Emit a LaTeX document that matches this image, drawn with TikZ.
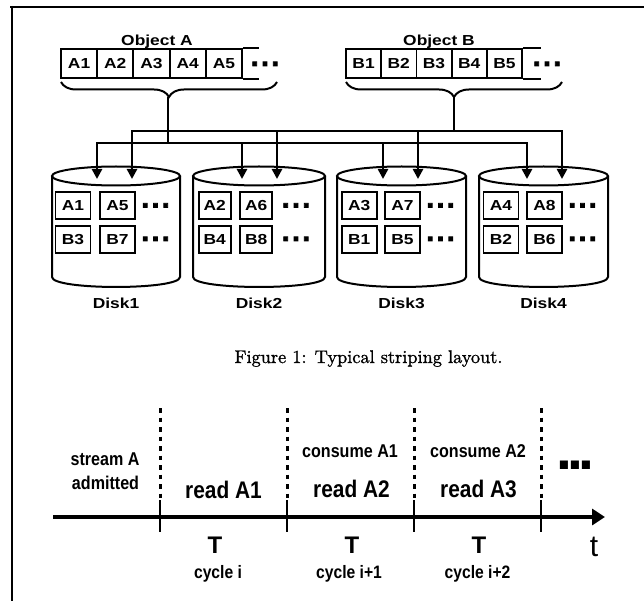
\documentclass[tikz,border=0pt]{standalone}
\usepackage{fontspec}
\usetikzlibrary{arrows.meta,decorations.pathreplacing}
\newfontfamily\topfont[FakeStretch=1.2]{Liberation Sans}
\newfontfamily\botfont[FakeStretch=0.87]{Liberation Sans}
\newfontfamily\dotfont{Liberation Sans}
\newfontfamily\sdotfont[FakeBold=2.5]{Liberation Sans}
\newfontfamily\capfont[FakeBold=1.2]{lmroman10-regular.otf}
\newcommand\dotrow[1]{.\kern#1.\kern#1.}
\begin{document}
\begin{tikzpicture}[x=1pt,y=-1pt,
  frame/.style={line width=2pt},
  sbox/.style={draw,line width=1.8pt,minimum width=36pt,minimum height=29pt,inner sep=0pt,
    font=\fontsize{14.5}{14.5}\topfont\bfseries},
  dbox/.style={draw,line width=1.8pt,minimum height=27pt,inner sep=0pt,
    font=\fontsize{14.5}{14.5}\topfont\bfseries},
  toplbl/.style={inner sep=0pt,anchor=base,font=\fontsize{14.5}{14.5}\topfont\bfseries},
  smalldots/.style={inner sep=0pt,anchor=base,text height=5pt,text depth=0pt,
    font=\fontsize{28}{28}\sdotfont\bfseries},
  bigdots/.style={inner sep=0pt,anchor=base,text height=8pt,text depth=0pt,
    font=\fontsize{57}{57}\dotfont\bfseries},
  brc/.style={line width=2pt,decorate,decoration={brace,mirror,amplitude=15pt}},
  bus/.style={line width=2.6pt},
  arr/.style={line width=2.6pt,-{Triangle[length=10pt,width=10pt]}},
  diskline/.style={line width=2pt},
  axisline/.style={line width=4.5pt,-{Triangle[length=13pt,width=16pt]}},
  tickline/.style={line width=2.6pt},
  dotline/.style={line width=3pt,dash pattern=on 4.5pt off 5pt},
  midtxt/.style={inner sep=0pt,anchor=base,font=\fontsize{18.5}{18.5}\botfont\bfseries},
  bigtxt/.style={inner sep=0pt,anchor=base,font=\fontsize{24}{24}\botfont\bfseries},
  ttxt/.style={inner sep=0pt,anchor=base,font=\fontsize{24}{24}\dotfont\bfseries},
  cyctxt/.style={inner sep=0pt,anchor=base,font=\fontsize{18}{18}\botfont\bfseries},
  axtxt/.style={inner sep=0pt,anchor=base,font=\fontsize{30}{30}\dotfont},
  captxt/.style={inner sep=0pt,anchor=base,font=\fontsize{18.3}{18.3}\capfont}
]
\useasboundingbox (0,0) rectangle (644,601);
\fill[white] (0,0) rectangle (644,601);

% frame
\draw[frame] (10,7) -- (644,7);
\draw[frame] (12,6) -- (12,601);

% Object A strip
\node[toplbl] (objA) at (157,46) {Object A};
\foreach \n/\x in {1/79.1,2/115.3,3/151.5,4/187.7,5/223.9}
  \node[sbox] (a\n) at (\x,63.5) {A\n};
\draw[line width=1.8pt] (a5.north east) -- ++(16.5,0);
\draw[line width=1.8pt] (a5.south east) -- ++(16.5,0);
\node[smalldots] (adots) at (265,66) {\dotrow{2.5pt}};
\draw[brc] (61,82) -- (277,82);
\coordinate (tipA) at (168,97);

% Object B strip
\node[toplbl] (objB) at (439,46) {Object B};
\foreach \n/\x in {1/363.6,2/398.8,3/434,4/469.2,5/504.4}
  \node[sbox,minimum width=35.2pt] (b\n) at (\x,63.5) {B\n};
\draw[line width=1.8pt] (b5.north east) -- ++(18,0);
\draw[line width=1.8pt] (b5.south east) -- ++(18,0);
\node[smalldots] (bdots) at (547,66) {\dotrow{2.5pt}};
\draw[brc] (346,82) -- (562,82);
\coordinate (tipB) at (454,97);

% bus junctions and disk inputs
\coordinate (jA) at (168,143);
\coordinate (jB) at (454,131);
\foreach \i/\xa/\xb in {1/97/132,2/242/277,3/383/418,4/527/562}{
  \coordinate (d\i a) at (\xa,179);
  \coordinate (d\i b) at (\xb,179);
}
\draw[bus] (tipA) -- (jA);
\draw[bus] (tipB) -- (jB);
\foreach \i in {1,2,3,4}{
  \draw[arr] (jB) -| (d\i b);
}
\foreach \i in {1,2,3,4}{
  \draw[arr] (jA) -| (d\i a);
}

% disks
\foreach \i/\L/\R/\cx/\rx/\ca/\cb/\bw/\dx/\ta/\tb/\tc/\td in {
  1/52/180/116/64/72.9/117.5/35/155.5/A1/A5/B3/B7,
  2/193/325/259/66/214.7/256.2/32/296/A2/A6/B4/B8,
  3/337/466/401.5/64.5/359.2/402.5/35/440.5/A3/A7/B1/B5,
  4/479/608/543.5/64.5/501/544.5/35/582.5/A4/A8/B2/B6}{
  \draw[diskline] (\L,176) -- (\L,277) .. controls (\L,290.3) and (\R,290.3) .. (\R,277) -- (\R,176);
  \draw[diskline] (\cx,176) ellipse [x radius=\rx, y radius=9.5];
  \node[dbox,minimum width=\bw pt] (d\i r1c1) at (\ca,205.5) {\ta};
  \node[dbox,minimum width=\bw pt] (d\i r1c2) at (\cb,205.5) {\tb};
  \node[dbox,minimum width=\bw pt] (d\i r2c1) at (\ca,239.5) {\tc};
  \node[dbox,minimum width=\bw pt] (d\i r2c2) at (\cb,239.5) {\td};
  \node[smalldots] (d\i dots1) at (\dx,207.5) {\dotrow{2.5pt}};
  \node[smalldots] (d\i dots2) at (\dx,241) {\dotrow{2.5pt}};
  \node[toplbl] (disk\i) at (\cx,308) {Disk\i};
}

% caption
\node[captxt] (cap) at (368.5,363) {Figure 1: Typical striping layout.};

% timeline
\coordinate (t0) at (53,517);
\coordinate (tend) at (605,517);
\draw[axisline] (t0) -- (tend);
\foreach \k/\x in {1/160,2/287,3/414,4/541}{
  \coordinate (tk\k top) at (\x,408);
  \coordinate (tk\k mid) at (\x,500);
  \coordinate (tk\k bot) at (\x,532);
  \draw[dotline] (tk\k top) -- (tk\k mid);
  \draw[tickline] (tk\k mid) -- (tk\k bot);
}
\node[midtxt] (s1) at (105,465) {stream A};
\node[midtxt] (s2) at (105.5,489) {admitted};
\node[bigtxt] (r1) at (223.5,498) {read A1};
\node[midtxt] (c1) at (350,457) {consume A1};
\node[bigtxt] (r2) at (351.5,497) {read A2};
\node[midtxt] (c2) at (478,457) {consume A2};
\node[bigtxt] (r3) at (478.5,497) {read A3};
\node[bigdots] (tdots) at (575,469) {\dotrow{-4.8pt}};
\node[ttxt] (T1) at (215,553) {T};
\node[ttxt] (T2) at (352,553) {T};
\node[ttxt] (T3) at (479,553) {T};
\node[cyctxt] (cy1) at (218,578) {cycle i};
\node[cyctxt] (cy2) at (349,578) {cycle i+1};
\node[cyctxt] (cy3) at (477.5,578) {cycle i+2};
\node[axtxt] (tl) at (594,556) {t};
\end{tikzpicture}
\end{document}
